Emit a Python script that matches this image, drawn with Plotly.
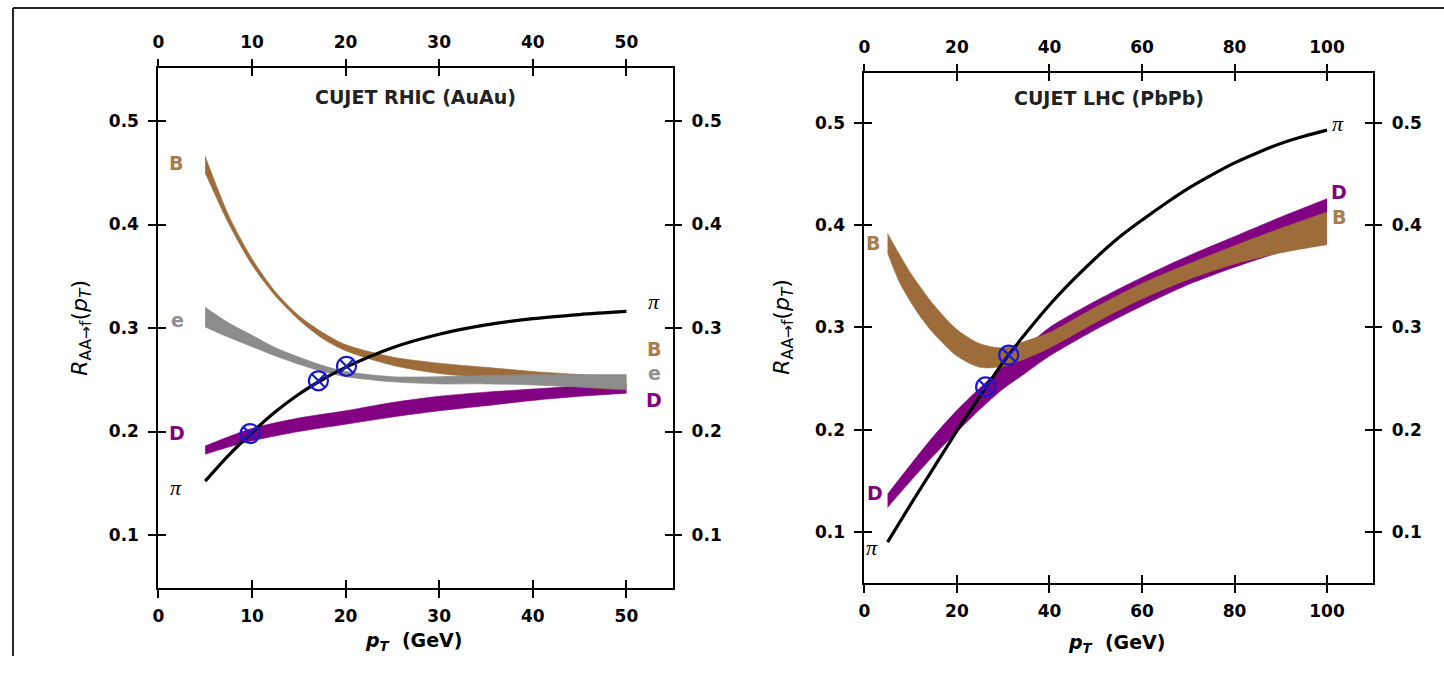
import plotly.graph_objects as go

# ---------------- RHIC (AuAu) panel data ----------------
rhic_pi_x = [5, 7.5, 10, 12.5, 15, 17.5, 20, 25, 30, 35, 40, 45, 50]
rhic_pi_y = [0.152, 0.177, 0.199, 0.219, 0.236, 0.250, 0.262, 0.281, 0.294, 0.303, 0.309, 0.313, 0.316]

rhic_d_x = [5, 7.5, 10, 15, 20, 25, 30, 35, 40, 45, 50]
rhic_d_lo = [0.178, 0.185, 0.191, 0.200, 0.207, 0.214, 0.220, 0.225, 0.230, 0.234, 0.237]
rhic_d_hi = [0.186, 0.195, 0.203, 0.213, 0.220, 0.228, 0.234, 0.238, 0.241, 0.244, 0.246]

rhic_b_x = [5, 7.5, 10, 12.5, 15, 17.5, 20, 25, 30, 35, 40, 45, 50]
rhic_b_lo = [0.450, 0.401, 0.361, 0.331, 0.308, 0.290, 0.278, 0.264, 0.256, 0.252, 0.248, 0.243, 0.240]
rhic_b_hi = [0.466, 0.409, 0.367, 0.335, 0.312, 0.296, 0.284, 0.272, 0.266, 0.262, 0.258, 0.255, 0.252]

rhic_e_x = [5, 7.5, 10, 12.5, 15, 17.5, 20, 25, 30, 35, 40, 45, 50]
rhic_e_lo = [0.301, 0.291, 0.282, 0.273, 0.265, 0.258, 0.253, 0.248, 0.246, 0.246, 0.245, 0.243, 0.241]
rhic_e_hi = [0.320, 0.305, 0.293, 0.281, 0.272, 0.264, 0.258, 0.253, 0.253, 0.254, 0.255, 0.255, 0.255]

rhic_cross_x = [9.8, 17.1, 20.1]
rhic_cross_y = [0.198, 0.249, 0.263]

# ---------------- LHC (PbPb) panel data ----------------
lhc_pi_x = [5, 10, 15, 20, 25, 30, 35, 40, 45, 50, 55, 60, 65, 70, 75, 80, 85, 90, 95, 100]
lhc_pi_y = [0.090, 0.127, 0.163, 0.199, 0.233, 0.266, 0.295, 0.322, 0.346, 0.368, 0.388, 0.405,
            0.421, 0.436, 0.449, 0.461, 0.471, 0.480, 0.487, 0.493]

lhc_d_x = [5, 10, 15, 20, 25, 30, 35, 40, 50, 60, 70, 80, 90, 100]
lhc_d_lo = [0.124, 0.150, 0.175, 0.198, 0.220, 0.240, 0.256, 0.272, 0.298, 0.321, 0.342, 0.359, 0.374, 0.388]
lhc_d_hi = [0.137, 0.166, 0.194, 0.219, 0.241, 0.262, 0.281, 0.300, 0.326, 0.349, 0.370, 0.389, 0.408, 0.426]

lhc_b_x = [5, 7.5, 10, 12.5, 15, 20, 25, 30, 35, 40, 50, 60, 70, 80, 90, 100]
lhc_b_lo = [0.373, 0.345, 0.325, 0.308, 0.294, 0.272, 0.261, 0.262, 0.270, 0.280, 0.305, 0.328, 0.347, 0.362, 0.373, 0.381]
lhc_b_hi = [0.392, 0.372, 0.353, 0.337, 0.322, 0.298, 0.284, 0.280, 0.287, 0.295, 0.320, 0.343, 0.362, 0.380, 0.397, 0.413]

lhc_cross_x = [26.2, 31.2]
lhc_cross_y = [0.242, 0.273]

# tick values
rhic_xticks = [0, 10, 20, 30, 40, 50]
lhc_xticks = [0, 20, 40, 60, 80, 100]
y_ticks = [0.1, 0.2, 0.3, 0.4, 0.5]

# ---------------- styling ----------------
BROWN = "#9e6b3a"
BROWN_TXT = "#a97c4f"
PURPLE = "#820082"
GRAY = "#8c8c8c"
GRAY_TXT = "#909090"
BLUE = "#1a1acc"
W, H = 1444, 673

fig = go.Figure()


def band(x, lo, hi, color, xa, ya):
    fig.add_trace(go.Scatter(x=x, y=lo, mode="lines", line=dict(color=color, width=0.6, shape="spline", smoothing=0.8),
                             xaxis=xa, yaxis=ya, hoverinfo="skip", showlegend=False))
    fig.add_trace(go.Scatter(x=x, y=hi, mode="lines", fill="tonexty", fillcolor=color,
                             line=dict(color=color, width=0.6, shape="spline", smoothing=0.8),
                             xaxis=xa, yaxis=ya, hoverinfo="skip", showlegend=False))


def line(x, y, xa, ya):
    fig.add_trace(go.Scatter(x=x, y=y, mode="lines", line=dict(color="black", width=3.2, shape="spline", smoothing=0.8),
                             xaxis=xa, yaxis=ya, hoverinfo="skip", showlegend=False))


def crosses(x, y, xa, ya):
    fig.add_trace(go.Scatter(x=x, y=y, mode="markers",
                             marker=dict(symbol="circle-x-open", size=19, color=BLUE, line=dict(width=2.2, color=BLUE)),
                             xaxis=xa, yaxis=ya, hoverinfo="skip", showlegend=False))


# RHIC panel (x, y)
band(rhic_d_x, rhic_d_lo, rhic_d_hi, PURPLE, "x", "y")
band(rhic_b_x, rhic_b_lo, rhic_b_hi, BROWN, "x", "y")
band(rhic_e_x, rhic_e_lo, rhic_e_hi, GRAY, "x", "y")
line(rhic_pi_x, rhic_pi_y, "x", "y")
crosses(rhic_cross_x, rhic_cross_y, "x", "y")

# LHC panel (x2, y2)
band(lhc_d_x, lhc_d_lo, lhc_d_hi, PURPLE, "x2", "y2")
band(lhc_b_x, lhc_b_lo, lhc_b_hi, BROWN, "x2", "y2")
line(lhc_pi_x, lhc_pi_y, "x2", "y2")
crosses(lhc_cross_x, lhc_cross_y, "x2", "y2")

# dummy traces so overlay axes are created
for xa, ya in [("x3", "y3"), ("x5", "y5"), ("x4", "y4"), ("x6", "y6")]:
    fig.add_trace(go.Scatter(x=[None], y=[None], xaxis=xa, yaxis=ya, showlegend=False, hoverinfo="skip"))

tickfont = dict(family="DejaVu Sans", size=17, color="black", weight="bold")

left_dom_x = [153 / W, 670 / W]
left_dom_y = [1 - 588 / H, 1 - 68 / H]
right_dom_x = [862 / W, 1373 / W]
right_dom_y = [1 - 583 / H, 1 - 73 / H]
left_xr = [0, 55]
left_yr = [0.0488, 0.5512]
right_xr = [0, 110]
right_yr = [0.0501, 0.5489]


def xmain(dom, rng, tv, anchor):
    return dict(domain=dom, range=rng, anchor=anchor, tickvals=tv, ticks="outside", ticklen=8, tickwidth=2,
                tickcolor="black", showline=True, linecolor="black", linewidth=2, mirror=True,
                showgrid=False, zeroline=False, tickfont=tickfont, ticklabelstandoff=4)


def xin(over, rng, tv, anchor):
    return dict(overlaying=over, range=rng, anchor=anchor, tickvals=tv, ticks="inside", ticklen=8, tickwidth=2,
                tickcolor="black", showline=True, linecolor="black", linewidth=2, mirror="ticks",
                showgrid=False, zeroline=False, showticklabels=False)


def xtop(over, rng, tv, anchor):
    return dict(overlaying=over, range=rng, anchor=anchor, side="top", tickvals=tv, ticks="outside", ticklen=8,
                tickwidth=2, tickcolor="black", showline=False, showgrid=False, zeroline=False,
                tickfont=tickfont, ticklabelstandoff=4)


def ymain(dom, rng, anchor):
    return dict(domain=dom, range=rng, anchor=anchor, tickvals=y_ticks, tickformat=".1f", ticks="outside",
                ticklen=8, tickwidth=2, tickcolor="black", showline=True, linecolor="black", linewidth=2,
                mirror=True, showgrid=False, zeroline=False, tickfont=tickfont, ticklabelstandoff=6)


def yin(over, rng, anchor):
    return dict(overlaying=over, range=rng, anchor=anchor, tickvals=y_ticks, ticks="inside", ticklen=8,
                tickwidth=2, tickcolor="black", showline=True, linecolor="black", linewidth=2, mirror="ticks",
                showgrid=False, zeroline=False, showticklabels=False)


def yright(over, rng, anchor):
    return dict(overlaying=over, range=rng, anchor=anchor, side="right", tickvals=y_ticks, tickformat=".1f",
                ticks="outside", ticklen=8, tickwidth=2, tickcolor="black", showline=False, showgrid=False,
                zeroline=False, tickfont=tickfont, ticklabelstandoff=6)


lab_font = dict(family="DejaVu Sans", size=19, weight="bold")
pi_font = dict(family="Liberation Serif", size=22, color="black", style="italic")


def lab(text, x, y, color, xref, yref, font=None):
    f = dict(lab_font, color=color) if font is None else font
    return dict(text=text, x=x, y=y, xref=xref, yref=yref, showarrow=False, font=f,
                xanchor="center", yanchor="middle")


title_font = dict(family="DejaVu Sans", size=19, color="#222222", weight="bold")
ytitle = "<i>R</i><sub>AA→f</sub>(<i>p<sub>T</sub></i>)"
xtitle = "<b><i>p<sub>T</sub></i>  (GeV)</b>"

annotations = [
    # panel titles
    dict(text="CUJET RHIC (AuAu)", x=16.5, y=0.523, xref="x", yref="y", showarrow=False,
         xanchor="left", yanchor="middle", font=title_font),
    dict(text="CUJET LHC (PbPb)", x=31.8, y=0.524, xref="x2", yref="y2", showarrow=False,
         xanchor="left", yanchor="middle", font=title_font),
    # RHIC curve labels
    lab("B", 1.9, 0.459, BROWN_TXT, "x", "y"),
    lab("e", 2.0, 0.308, GRAY_TXT, "x", "y"),
    lab("D", 2.0, 0.199, PURPLE, "x", "y"),
    lab("π", 1.9, 0.146, "black", "x", "y", pi_font),
    lab("π", 53.0, 0.326, "black", "x", "y", pi_font),
    lab("B", 53.0, 0.280, BROWN_TXT, "x", "y"),
    lab("e", 53.0, 0.257, GRAY_TXT, "x", "y"),
    lab("D", 53.0, 0.230, PURPLE, "x", "y"),
    # LHC curve labels
    lab("B", 1.9, 0.383, BROWN_TXT, "x2", "y2"),
    lab("D", 2.2, 0.138, PURPLE, "x2", "y2"),
    lab("π", 1.7, 0.085, "black", "x2", "y2", pi_font),
    lab("π", 102.4, 0.500, "black", "x2", "y2", pi_font),
    lab("D", 102.6, 0.433, PURPLE, "x2", "y2"),
    lab("B", 102.6, 0.408, BROWN_TXT, "x2", "y2"),
    # axis titles
    dict(text=ytitle, x=75 / W, y=1 - 328 / H, xref="paper", yref="paper",
         textangle=-90, showarrow=False, xanchor="center", yanchor="middle",
         font=dict(family="DejaVu Sans", size=22, color="black")),
    dict(text=ytitle, x=780 / W, y=1 - 327 / H, xref="paper", yref="paper",
         textangle=-90, showarrow=False, xanchor="center", yanchor="middle",
         font=dict(family="DejaVu Sans", size=22, color="black")),
    dict(text=xtitle, x=409 / W, y=1 - 641 / H, xref="paper", yref="paper",
         showarrow=False, xanchor="center", yanchor="middle",
         font=dict(family="DejaVu Sans", size=19, color="black")),
    dict(text=xtitle, x=1115 / W, y=1 - 643 / H, xref="paper", yref="paper",
         showarrow=False, xanchor="center", yanchor="middle",
         font=dict(family="DejaVu Sans", size=19, color="black")),
]

shapes = [
    dict(type="line", xref="paper", yref="paper", x0=7 / W, y0=1 - 8 / H, x1=1, y1=1 - 8 / H,
         line=dict(color="#222222", width=2)),
    dict(type="line", xref="paper", yref="paper", x0=7 / W, y0=1 - 8 / H, x1=7 / W, y1=1 - 656 / H,
         line=dict(color="#222222", width=2)),
]

fig.update_layout(
    width=W, height=H,
    margin=dict(l=0, r=0, t=0, b=0),
    paper_bgcolor="white", plot_bgcolor="rgba(0,0,0,0)",
    showlegend=False,
    xaxis=xmain(left_dom_x, left_xr, rhic_xticks, "y"),
    xaxis3=xin("x", left_xr, rhic_xticks, "y3"),
    xaxis5=xtop("x", left_xr, rhic_xticks, "y5"),
    yaxis=ymain(left_dom_y, left_yr, "x"),
    yaxis3=yin("y", left_yr, "x3"),
    yaxis5=yright("y", left_yr, "x5"),
    xaxis2=xmain(right_dom_x, right_xr, lhc_xticks, "y2"),
    xaxis4=xin("x2", right_xr, lhc_xticks, "y4"),
    xaxis6=xtop("x2", right_xr, lhc_xticks, "y6"),
    yaxis2=ymain(right_dom_y, right_yr, "x2"),
    yaxis4=yin("y2", right_yr, "x4"),
    yaxis6=yright("y2", right_yr, "x6"),
    annotations=annotations,
    shapes=shapes,
)

fig.write_html("out.html")
